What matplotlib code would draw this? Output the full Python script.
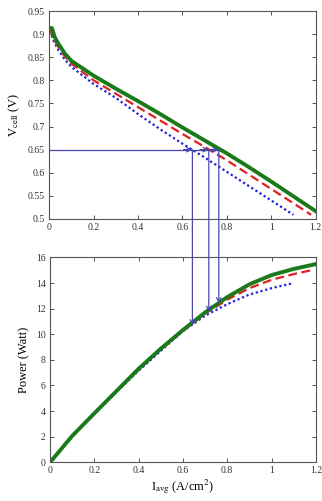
import matplotlib
matplotlib.use("Agg")
import matplotlib.pyplot as plt
from matplotlib.patches import ConnectionPatch
from matplotlib.transforms import blended_transform_factory

plt.rcParams['font.family'] = ['Liberation Serif', 'DejaVu Serif']
plt.rcParams['mathtext.fontset'] = 'stix'

# --- data ---
i_green = [0.003, 0.012, 0.025, 0.04, 0.07, 0.1, 0.2, 0.3, 0.4, 0.5, 0.6, 0.7, 0.8, 0.9, 1.0, 1.1, 1.2]
v_green = [0.913, 0.913, 0.893, 0.880, 0.858, 0.842, 0.810, 0.782, 0.755, 0.727, 0.698, 0.670, 0.642, 0.612, 0.581, 0.549, 0.517]
i_red = [0.003, 0.02, 0.04, 0.07, 0.1, 0.2, 0.3, 0.4, 0.5, 0.6, 0.7, 0.8, 0.9, 1.0, 1.1, 1.18]
v_red = [0.912, 0.890, 0.873, 0.852, 0.836, 0.800, 0.771, 0.742, 0.713, 0.684, 0.656, 0.627, 0.596, 0.565, 0.534, 0.509]
i_blue = [0.003, 0.02, 0.04, 0.07, 0.1, 0.2, 0.3, 0.4, 0.5, 0.6, 0.7, 0.8, 0.9, 1.0, 1.1]
v_blue = [0.907, 0.885, 0.866, 0.845, 0.829, 0.792, 0.762, 0.727, 0.694, 0.663, 0.633, 0.602, 0.571, 0.540, 0.509]

ip_green = [0.003, 0.1, 0.2, 0.3, 0.4, 0.5, 0.6, 0.7, 0.8, 0.9, 1.0, 1.1, 1.2]
p_green = [0.05, 2.05, 3.82, 5.56, 7.3, 8.87, 10.33, 11.7, 12.9, 13.9, 14.62, 15.1, 15.48]
ip_red = [0.003, 0.1, 0.2, 0.3, 0.4, 0.5, 0.6, 0.7, 0.8, 0.9, 1.0, 1.1, 1.18]
p_red = [0.05, 2.05, 3.82, 5.55, 7.25, 8.8, 10.25, 11.6, 12.7, 13.6, 14.25, 14.7, 15.0]
ip_blue = [0.003, 0.1, 0.2, 0.3, 0.4, 0.5, 0.6, 0.7, 0.8, 0.9, 1.0, 1.1]
p_blue = [0.05, 2.05, 3.8, 5.5, 7.15, 8.7, 10.25, 11.45, 12.35, 13.1, 13.6, 14.0]

# operating points (I at V = 0.65 V) and the resulting power
op_i = [0.645, 0.719, 0.764]
op_v = [0.65, 0.65, 0.65]
op_p = [10.68, 11.74, 12.4]

xticks = [0, 0.2, 0.4, 0.6, 0.8, 1.0, 1.2]
xticklabels = ['0', '0.2', '0.4', '0.6', '0.8', '1', '1.2']
vticks = [0.5, 0.55, 0.6, 0.65, 0.7, 0.75, 0.8, 0.85, 0.9, 0.95]
vticklabels = ['0.5', '0.55', '0.6', '0.65', '0.7', '0.75', '0.8', '0.85', '0.9', '0.95']
pticks = [0, 2, 4, 6, 8, 10, 12, 14, 16]

green = '#1a7a1a'
red = '#e02020'
blue = '#2020e0'
arrow_c = '#4848b0'

fig = plt.figure(figsize=(3.22, 5.01), dpi=100)
ax1 = fig.add_axes([0.153, 0.563, 0.827, 0.415])
ax2 = fig.add_axes([0.155, 0.0772, 0.826, 0.409])

for ax in (ax1, ax2):
    ax.tick_params(direction='in', top=True, right=True, labelsize=7, length=3,
                   width=0.6, colors='#333333', pad=3)
    for s in ax.spines.values():
        s.set_color('#555555')
        s.set_linewidth(0.8)
    ax.set_xlim(0, 1.2)
    ax.set_xticks(xticks)
    ax.set_xticklabels(xticklabels)

ax1.plot(i_blue, v_blue, color=blue, lw=1.6, ls=(0, (1, 1.2)))
ax1.plot(i_red, v_red, color=red, lw=1.6, ls=(0, (4, 2)))
ax1.plot(i_green, v_green, color=green, lw=2.8)
ax1.set_ylim(0.5, 0.95)
ax1.set_yticks(vticks)
ax1.set_yticklabels(vticklabels)
ax1.set_ylabel(r'V$_{\mathrm{cell}}$ (V)', fontsize=9, labelpad=4)

ax2.plot(ip_blue, p_blue, color=blue, lw=1.6, ls=(0, (1, 1.2)))
ax2.plot(ip_red, p_red, color=red, lw=1.6, ls=(0, (4, 2)))
ax2.plot(ip_green, p_green, color=green, lw=2.8)
ax2.set_ylim(0, 16)
ax2.set_yticks(pticks)
ax2.set_ylabel('Power (Watt)', fontsize=9, labelpad=4)
ax2.set_xlabel(r'I$_{\mathrm{avg}}$ (A/cm$^2$)', fontsize=9, labelpad=1)

# horizontal line at V = 0.65 with arrowheads
ax1.plot([0, max(op_i)], [op_v[0], op_v[0]], color=arrow_c, lw=0.9)
tB = blended_transform_factory(ax1.transData, ax2.transData)
for x, v, p in zip(op_i, op_v, op_p):
    ax1.annotate('', xy=(x, v), xytext=(x - 0.04, v),
                 arrowprops=dict(arrowstyle='->', color=arrow_c, lw=0.9,
                                 shrinkA=0, shrinkB=0, mutation_scale=8))
    con = ConnectionPatch(xyA=(x, v), coordsA=ax1.transData,
                          xyB=(x, p), coordsB=tB,
                          arrowstyle='->', color=arrow_c, lw=0.9,
                          shrinkA=0, shrinkB=0, mutation_scale=8)
    fig.add_artist(con)

fig.savefig('out.png', dpi=100)
